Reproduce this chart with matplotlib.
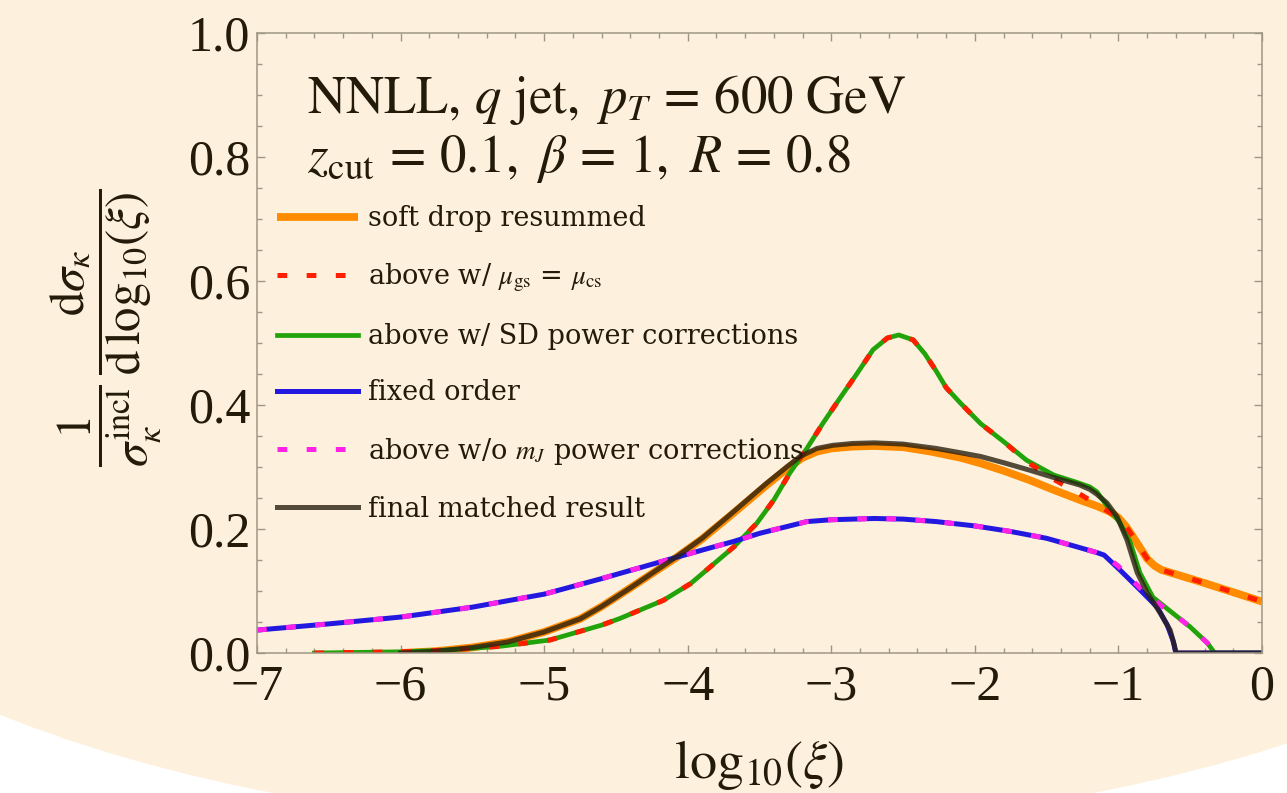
import matplotlib
matplotlib.use("Agg")
import matplotlib.pyplot as plt
from matplotlib.patches import Ellipse, Rectangle
from matplotlib.ticker import MultipleLocator

plt.rcParams["mathtext.fontset"] = "stix"
plt.rcParams["font.family"] = ["Liberation Serif", "DejaVu Serif"]
plt.rcParams["lines.scale_dashes"] = False

# ---- data: log10(xi) vs normalized cross section ----
x_sd = [-6.0, -5.75, -5.5, -5.25, -5.0, -4.75, -4.6, -4.4, -4.08, -3.9, -3.68, -3.45, -3.3,
        -3.2, -3.1, -3.0, -2.85, -2.7, -2.5, -2.31, -2.1, -1.96, -1.8, -1.62, -1.45, -1.27,
        -1.15, -1.06, -1.0, -0.95, -0.9, -0.85, -0.8, -0.75, -0.7, -0.6, -0.43, -0.2, 0.0]
y_sd = [0.0, 0.003, 0.009, 0.018, 0.034, 0.055, 0.075, 0.105, 0.154, 0.184, 0.226, 0.271, 0.299,
        0.315, 0.325, 0.330, 0.333, 0.334, 0.332, 0.325, 0.315, 0.306, 0.294, 0.279, 0.263, 0.247,
        0.237, 0.228, 0.218, 0.205, 0.188, 0.170, 0.152, 0.141, 0.134, 0.127, 0.115, 0.098, 0.083]

x_scale = [-6.6, -6.0, -5.66, -5.3, -4.96, -4.6, -4.47, -4.17, -3.98, -3.68, -3.52, -3.40,
           -3.29, -3.17, -3.06, -2.94, -2.82, -2.71, -2.61, -2.53, -2.43, -2.35, -2.27, -2.20,
           -2.10, -1.96, -1.80, -1.64, -1.465, -1.28, -1.105, -1.0, -0.95, -0.9, -0.85, -0.8,
           -0.75, -0.7, -0.6, -0.43, -0.2, 0.0]
y_scale = [0.0, 0.002, 0.005, 0.011, 0.021, 0.045, 0.056, 0.085, 0.112, 0.171, 0.209, 0.247,
           0.290, 0.330, 0.370, 0.411, 0.451, 0.489, 0.508, 0.513, 0.505, 0.483, 0.455, 0.428,
           0.403, 0.370, 0.341, 0.309, 0.282, 0.258, 0.233, 0.218, 0.205, 0.188, 0.170, 0.152,
           0.141, 0.134, 0.127, 0.115, 0.098, 0.083]

x_sdpc = [-6.6, -6.0, -5.66, -5.3, -4.96, -4.6, -4.47, -4.17, -3.98, -3.68, -3.52, -3.40,
          -3.29, -3.17, -3.06, -2.94, -2.82, -2.71, -2.61, -2.53, -2.43, -2.35, -2.27, -2.20,
          -2.10, -1.96, -1.80, -1.64, -1.45, -1.30, -1.2, -1.15, -1.06, -0.99, -0.92, -0.85,
          -0.76, -0.62, -0.5, -0.38, -0.33, 0.0]
y_sdpc = [0.0, 0.002, 0.005, 0.011, 0.021, 0.045, 0.056, 0.085, 0.112, 0.171, 0.209, 0.247,
          0.290, 0.330, 0.370, 0.411, 0.451, 0.489, 0.508, 0.513, 0.505, 0.483, 0.455, 0.428,
          0.403, 0.370, 0.341, 0.311, 0.287, 0.276, 0.268, 0.260, 0.231, 0.210, 0.180, 0.129,
          0.090, 0.064, 0.042, 0.016, 0.0, 0.0]

x_fo = [-7.0, -6.5, -6.0, -5.5, -5.0, -4.6, -4.1, -3.9, -3.68, -3.5, -3.17, -3.0, -2.7, -2.5,
        -2.27, -2.0, -1.75, -1.5, -1.3, -1.15, -1.1, -0.99, -0.85, -0.73, -0.66, -0.62, -0.6, 0.0]
y_fo = [0.037, 0.047, 0.058, 0.074, 0.095, 0.120, 0.153, 0.166, 0.180, 0.193, 0.212, 0.215, 0.217,
        0.216, 0.212, 0.205, 0.196, 0.185, 0.172, 0.162, 0.158, 0.134, 0.102, 0.074, 0.045, 0.020,
        0.0, 0.0]

x_nomj = [-7.0, -6.5, -6.0, -5.5, -5.0, -4.6, -4.1, -3.9, -3.68, -3.5, -3.17, -3.0, -2.7, -2.5,
          -2.27, -2.0, -1.75, -1.5, -1.3, -1.15, -1.1, -1.0, -0.85, -0.76, -0.7, -0.62, -0.5,
          -0.38, -0.33]
y_nomj = [0.037, 0.047, 0.058, 0.074, 0.095, 0.120, 0.153, 0.166, 0.180, 0.193, 0.212, 0.215, 0.217,
          0.216, 0.212, 0.205, 0.196, 0.185, 0.172, 0.162, 0.158, 0.140, 0.105, 0.088, 0.076, 0.064,
          0.042, 0.016, 0.0]

x_final = [-6.0, -5.75, -5.5, -5.25, -5.0, -4.75, -4.6, -4.4, -4.08, -3.9, -3.68, -3.45, -3.3,
           -3.218, -3.1, -2.99, -2.85, -2.7, -2.5, -2.27, -2.1, -1.96, -1.8, -1.62, -1.45, -1.27,
           -1.2, -1.15, -1.08, -1.01, -0.94, -0.87, -0.8, -0.71, -0.64, -0.61, -0.6, 0.0]
y_final = [0.0, 0.003, 0.009, 0.018, 0.034, 0.055, 0.075, 0.105, 0.155, 0.185, 0.228, 0.274, 0.302,
           0.317, 0.330, 0.335, 0.338, 0.339, 0.337, 0.330, 0.323, 0.317, 0.307, 0.295, 0.283, 0.271,
           0.264, 0.256, 0.242, 0.220, 0.182, 0.130, 0.097, 0.065, 0.037, 0.012, 0.0, 0.0]

labels = ["soft drop resummed",
          r"above w/ $\mu_{\rm gs}$ = $\mu_{\rm cs}$",
          "above w/ SD power corrections",
          "fixed order",
          r"above w/o $m_J$ power corrections",
          "final matched result"]

xticks = [-7, -6, -5, -4, -3, -2, -1, 0]
yticks = [0.0, 0.2, 0.4, 0.6, 0.8, 1.0]

# ---- figure ----
cream = "#fdf1dd"
ink = "#231a0a"
frame = "#a09685"

fig = plt.figure(figsize=(12.87, 7.93), dpi=100, facecolor="white")
fig.patches.append(Rectangle((0, 0.4956), 1, 0.5044, transform=fig.transFigure,
                             facecolor=cream, edgecolor="none", zorder=-10))
fig.patches.append(Ellipse((0.5307, 0.4956), 1.554, 1.087, transform=fig.transFigure,
                           facecolor=cream, edgecolor="none", zorder=-10))

ax = fig.add_axes([0.1997, 0.1765, 0.7809, 0.7819])
ax.set_facecolor("none")

# solid curves underneath, dashed overlays and the final result on top
ax.plot(x_sd, y_sd, color="#ff8c00", lw=5.6, solid_capstyle="butt", label=labels[0], zorder=2.0)
ax.plot(x_scale, y_scale, color="#ff1e00", lw=3.6, dashes=(7, 14), dash_capstyle="butt",
        label=labels[1], zorder=2.3)
ax.plot(x_sdpc, y_sdpc, color="#22a30a", lw=3.4, label=labels[2], zorder=2.1)
ax.plot(x_fo, y_fo, color="#2318e0", lw=3.6, label=labels[3], zorder=2.2)
ax.plot(x_nomj, y_nomj, color="#ff22e6", lw=3.6, dashes=(7, 14), dash_capstyle="butt",
        label=labels[4], zorder=2.4)
ax.plot(x_final, y_final, color="#2a2011", alpha=0.8, lw=3.6, label=labels[5], zorder=2.5)

ax.set_xlim(-7, 0)
ax.set_ylim(0, 1)
ax.set_xticks(xticks)
ax.set_yticks(yticks)
ax.set_xticklabels([("\u2212%d" % -t) if t < 0 else "%d" % t for t in xticks])
ax.set_yticklabels(["%.1f" % t for t in yticks])
ax.xaxis.set_minor_locator(MultipleLocator(0.2))
ax.yaxis.set_minor_locator(MultipleLocator(0.05))
ax.tick_params(which="both", direction="in", color=frame, width=1.0, top=True, right=True,
               labeltop=False, labelright=False)
ax.tick_params(which="major", length=6, labelsize=36, labelcolor=ink)
ax.tick_params(axis="x", which="major", pad=8)
ax.tick_params(axis="y", which="major", pad=5)
ax.tick_params(which="minor", length=3.5)
for s in ax.spines.values():
    s.set_color(frame)
    s.set_linewidth(1.1)

ax.set_xlabel(r"$\mathrm{log}_{10}(\xi)$", fontsize=39, color=ink)
ax.xaxis.label.set_va("baseline")
ax.xaxis.set_label_coords(0.5, -0.2016)

ax.set_ylabel(r"$\dfrac{1}{\sigma_\kappa^{\rm incl}}\,\dfrac{\mathrm{d}\sigma_\kappa}{\mathrm{d}\,\mathrm{log}_{10}(\xi)}$",
              fontsize=35, color=ink)
ax.yaxis.label.set_va("center")
ax.yaxis.set_label_coords(-0.150, 0.524)

ax.text(0.0498, 0.871, r"$\mathrm{NNLL,}\,q\ \mathrm{jet,}\ p_T\,=\,600\ \mathrm{GeV}$",
        transform=ax.transAxes, fontsize=38, color=ink, va="baseline", ha="left")
ax.text(0.0498, 0.776, r"$z_{\rm cut}\,=\,0.1,\ \beta\,=\,1,\ R\,=\,0.8$",
        transform=ax.transAxes, fontsize=38, color=ink, va="baseline", ha="left")

leg = ax.legend(loc="center left", bbox_to_anchor=(0.0199, 0.466), frameon=False,
                borderpad=0, borderaxespad=0, handlelength=3.0, handletextpad=0.37,
                labelspacing=1.08, prop={"family": "DejaVu Serif", "size": 19.5})
for t in leg.get_texts():
    t.set_color(ink)

fig.savefig("out.png", dpi=100, facecolor=fig.get_facecolor())
